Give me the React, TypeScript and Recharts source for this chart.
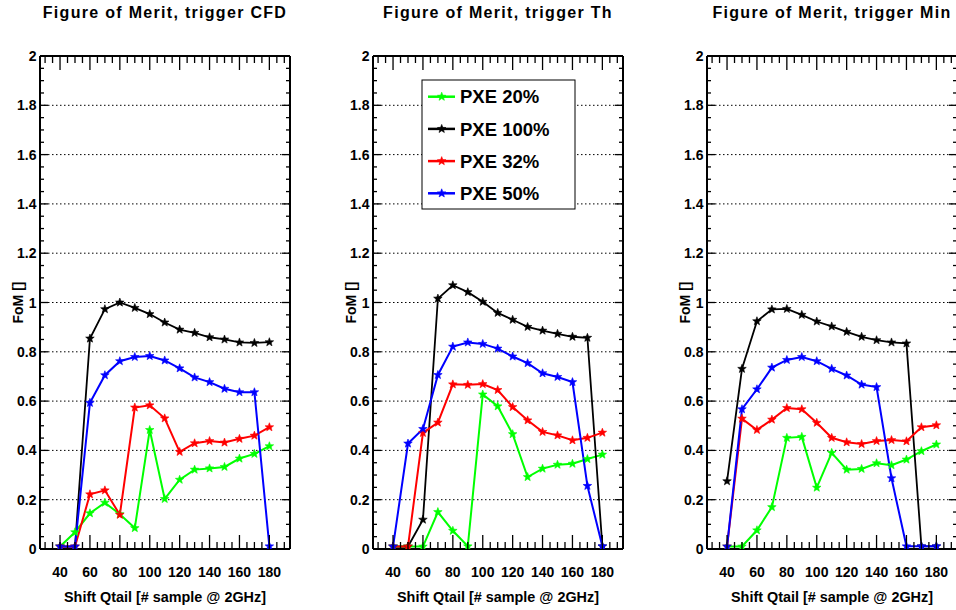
import { LineChart, Line, XAxis, YAxis, CartesianGrid } from 'recharts';

// shift of Qtail, in samples @ 2GHz
const shiftQtail = [40, 50, 60, 70, 80, 90, 100, 110, 120, 130, 140, 150, 160, 170, 180];

const xTickLabels = [40, 60, 80, 100, 120, 140, 160, 180];
const yTickLabels = [0, 0.2, 0.4, 0.6, 0.8, 1, 1.2, 1.4, 1.6, 1.8, 2];
const gridValues = [0.2, 0.4, 0.6, 0.8, 1, 1.2, 1.4, 1.6, 1.8];

const seriesNames = ['PXE 20%', 'PXE 100%', 'PXE 32%', 'PXE 50%'];

// trigger CFD
const cfdPxe20 = [0.01, 0.068, 0.145, 0.188, 0.141, 0.085, 0.483, 0.203, 0.281, 0.322, 0.327, 0.333, 0.367, 0.386, 0.417];
const cfdPxe100 = [0.01, 0.01, 0.854, 0.973, 1.0, 0.978, 0.953, 0.919, 0.89, 0.877, 0.859, 0.85, 0.838, 0.836, 0.839];
const cfdPxe32 = [0.01, 0.01, 0.222, 0.238, 0.139, 0.574, 0.583, 0.53, 0.394, 0.429, 0.438, 0.432, 0.447, 0.46, 0.494];
const cfdPxe50 = [0.01, 0.01, 0.593, 0.705, 0.762, 0.779, 0.783, 0.765, 0.733, 0.696, 0.677, 0.65, 0.636, 0.636, 0.011];

// trigger Th
const thPxe20 = [0.01, 0.01, 0.01, 0.15, 0.074, 0.011, 0.627, 0.579, 0.466, 0.292, 0.326, 0.342, 0.346, 0.365, 0.383];
const thPxe100 = [0.01, 0.01, 0.119, 1.016, 1.07, 1.042, 1.003, 0.958, 0.93, 0.901, 0.886, 0.873, 0.861, 0.857, 0.011];
const thPxe32 = [0.01, 0.01, 0.471, 0.513, 0.668, 0.666, 0.669, 0.645, 0.576, 0.522, 0.475, 0.461, 0.441, 0.451, 0.472];
const thPxe50 = [0.01, 0.428, 0.487, 0.706, 0.821, 0.838, 0.832, 0.813, 0.781, 0.754, 0.713, 0.698, 0.677, 0.256, 0.011];

// trigger Min
const minPxe20 = [0.01, 0.01, 0.076, 0.17, 0.451, 0.455, 0.249, 0.39, 0.322, 0.325, 0.348, 0.34, 0.363, 0.397, 0.424];
const minPxe100 = [0.275, 0.731, 0.924, 0.972, 0.974, 0.95, 0.923, 0.903, 0.881, 0.861, 0.847, 0.838, 0.834, 0.011, 0.011];
const minPxe32 = [0.01, 0.529, 0.483, 0.525, 0.572, 0.567, 0.512, 0.451, 0.433, 0.426, 0.438, 0.442, 0.437, 0.494, 0.502];
const minPxe50 = [0.01, 0.567, 0.648, 0.736, 0.767, 0.779, 0.762, 0.731, 0.704, 0.667, 0.657, 0.287, 0.011, 0.011, 0.011];

const colors = ['#00ff00', '#000000', '#ff0000', '#0000ff'];
const keys = ['p20', 'p100', 'p32', 'p50'];

const toRows = (s20: number[], s100: number[], s32: number[], s50: number[]) =>
  shiftQtail.map((x, i) => ({ x, p20: s20[i], p100: s100[i], p32: s32[i], p50: s50[i] }));

const panels = [
  { title: 'Figure of Merit, trigger CFD', left: 40, rows: toRows(cfdPxe20, cfdPxe100, cfdPxe32, cfdPxe50), legend: false },
  { title: 'Figure of Merit, trigger Th', left: 373, rows: toRows(thPxe20, thPxe100, thPxe32, thPxe50), legend: true },
  { title: 'Figure of Merit, trigger Min', left: 707, rows: toRows(minPxe20, minPxe100, minPxe32, minPxe50), legend: false },
];

const X_DOMAIN: [number, number] = [26.6, 193.8];
const PLOT_W = 250;
const PLOT_TOP = 56;
const PLOT_BOTTOM = 549;

// minor tick positions
const xMinor: number[] = [];
for (let v = 30; v <= 190; v += 5) xMinor.push(v);
const yMinor: number[] = [];
for (let i = 0; i <= 40; i++) yMinor.push(Math.round(i * 5) / 100);

const isMajorX = (v: number) => xTickLabels.includes(v);
const isMajorY = (v: number) => yTickLabels.some((t) => Math.abs(t - v) < 1e-6);

const FONT = '"Liberation Sans", Arial, Helvetica, sans-serif';

const BottomTick = (p: any) => {
  const v = p.payload.value;
  const major = isMajorX(v);
  return (
    <g>
      <line x1={p.x} x2={p.x} y1={p.y} y2={p.y - (major ? 14 : 7)} stroke="#000" strokeWidth={1.3} />
      {major && (
        <text x={p.x} y={p.y + 28} textAnchor="middle" fontFamily={FONT} fontWeight={700} fontSize={14} fill="#000">
          {v}
        </text>
      )}
    </g>
  );
};

const TopTick = (p: any) => {
  const major = isMajorX(p.payload.value);
  return <line x1={p.x} x2={p.x} y1={p.y} y2={p.y + (major ? 14 : 7)} stroke="#000" strokeWidth={1.3} />;
};

const LeftTick = (p: any) => {
  const v = p.payload.value;
  const major = isMajorY(v);
  return (
    <g>
      <line x1={p.x} x2={p.x + (major ? 8 : 4)} y1={p.y} y2={p.y} stroke="#000" strokeWidth={1.3} />
      {major && (
        <text x={p.x - 3.5} y={p.y} dy="0.36em" textAnchor="end" fontFamily={FONT} fontWeight={700} fontSize={14} fill="#000">
          {String(v)}
        </text>
      )}
    </g>
  );
};

const RightTick = (p: any) => {
  const major = isMajorY(p.payload.value);
  return <line x1={p.x} x2={p.x - (major ? 8 : 4)} y1={p.y} y2={p.y} stroke="#000" strokeWidth={1.3} />;
};

const starPath = (cx: number, cy: number, r: number) => {
  let d = '';
  for (let k = 0; k < 10; k++) {
    const rad = k % 2 === 0 ? r : r * 0.42;
    const a = -Math.PI / 2 + (k * Math.PI) / 5;
    d += (k === 0 ? 'M' : 'L') + (cx + rad * Math.cos(a)).toFixed(2) + ',' + (cy + rad * Math.sin(a)).toFixed(2);
  }
  return d + 'Z';
};

const starDot = (color: string) => (p: any) => (
  <path key={`s-${p.index}`} d={starPath(p.cx, p.cy, 4.5)} fill={color} stroke={color} strokeWidth={0.6} />
);

const axisLine = { stroke: '#000', strokeWidth: 2 };

const Panel = ({ rows, left }: { rows: any[]; left: number }) => (
  <div style={{ position: 'absolute', left: left - 40, top: 0 }}>
    <LineChart width={320} height={610} data={rows} margin={{ top: PLOT_TOP - 6, right: 0, bottom: 0, left: 0 }}>
      <CartesianGrid
        xAxisId="b"
        yAxisId="l"
        vertical={false}
        horizontalValues={gridValues}
        stroke="#000"
        strokeWidth={1}
        strokeDasharray="1.5 2.5"
      />
      <XAxis xAxisId="b" dataKey="x" type="number" domain={X_DOMAIN} allowDataOverflow ticks={xMinor} interval={0}
        tickSize={0} tickMargin={0} tickLine={false} tick={BottomTick} height={610 - PLOT_BOTTOM} axisLine={axisLine} />
      <XAxis xAxisId="t" orientation="top" dataKey="x" type="number" domain={X_DOMAIN} allowDataOverflow ticks={xMinor}
        interval={0} tickSize={0} tickMargin={0} tickLine={false} tick={TopTick} height={6} axisLine={axisLine} />
      <YAxis yAxisId="l" type="number" domain={[0, 2]} allowDataOverflow ticks={yMinor} interval={0}
        tickSize={0} tickMargin={0} tickLine={false} tick={LeftTick} width={40} axisLine={axisLine} />
      <YAxis yAxisId="r" orientation="right" type="number" domain={[0, 2]} allowDataOverflow ticks={yMinor} interval={0}
        tickSize={0} tickMargin={0} tickLine={false} tick={RightTick} width={320 - 40 - PLOT_W} axisLine={axisLine} />
      {keys.map((k, i) => (
        <Line
          key={k}
          xAxisId="b"
          yAxisId="l"
          type="linear"
          dataKey={k}
          name={seriesNames[i]}
          stroke={colors[i]}
          strokeWidth={i === 1 ? 1.8 : 2}
          dot={starDot(colors[i])}
          isAnimationActive={false}
        />
      ))}
    </LineChart>
  </div>
);

const LegendBox = () => {
  const x0 = 422;
  const y0 = 80;
  return (
    <g>
      <rect x={x0} y={y0} width={153} height={129} fill="#fff" stroke="#000" strokeWidth={1} />
      {seriesNames.map((n, i) => {
        const cy = 96.7 + i * 32.2;
        return (
          <g key={n}>
            <line x1={428} x2={455} y1={cy} y2={cy} stroke={colors[i]} strokeWidth={2.5} />
            <path d={starPath(441.7, cy, 4.5)} fill={colors[i]} stroke={colors[i]} strokeWidth={0.6} />
            <text x={460} y={cy + 6.6} fontFamily={FONT} fontWeight={700} fontSize={18.5} fill="#000">
              {n}
            </text>
          </g>
        );
      })}
    </g>
  );
};

export default function App() {
  return (
    <div style={{ position: 'absolute', left: 0, top: 0, width: 956, height: 610, overflow: 'hidden', background: '#fff' }}>
      {panels.map((p) => (
        <Panel key={p.title} rows={p.rows} left={p.left} />
      ))}
      <svg width={956} height={610} style={{ position: 'absolute', left: 0, top: 0, pointerEvents: 'none' }}>
        {panels.map((p) => (
          <g key={p.title}>
            <text x={p.left + PLOT_W / 2} y={18.3} textAnchor="middle" fontFamily={FONT} fontWeight={700} fontSize={16}
              letterSpacing={1.3} fill="#000">
              {p.title}
            </text>
            <text x={p.left + PLOT_W / 2} y={602} textAnchor="middle" fontFamily={FONT} fontWeight={700} fontSize={14.4} fill="#000">
              Shift Qtail [# sample @ 2GHz]
            </text>
            <text transform={`translate(${p.left - 16.7},${(PLOT_TOP + PLOT_BOTTOM) / 2}) rotate(-90)`} textAnchor="middle"
              fontFamily={FONT} fontWeight={700} fontSize={14} fill="#000">
              FoM []
            </text>
            {p.legend && <LegendBox />}
          </g>
        ))}
      </svg>
    </div>
  );
}
